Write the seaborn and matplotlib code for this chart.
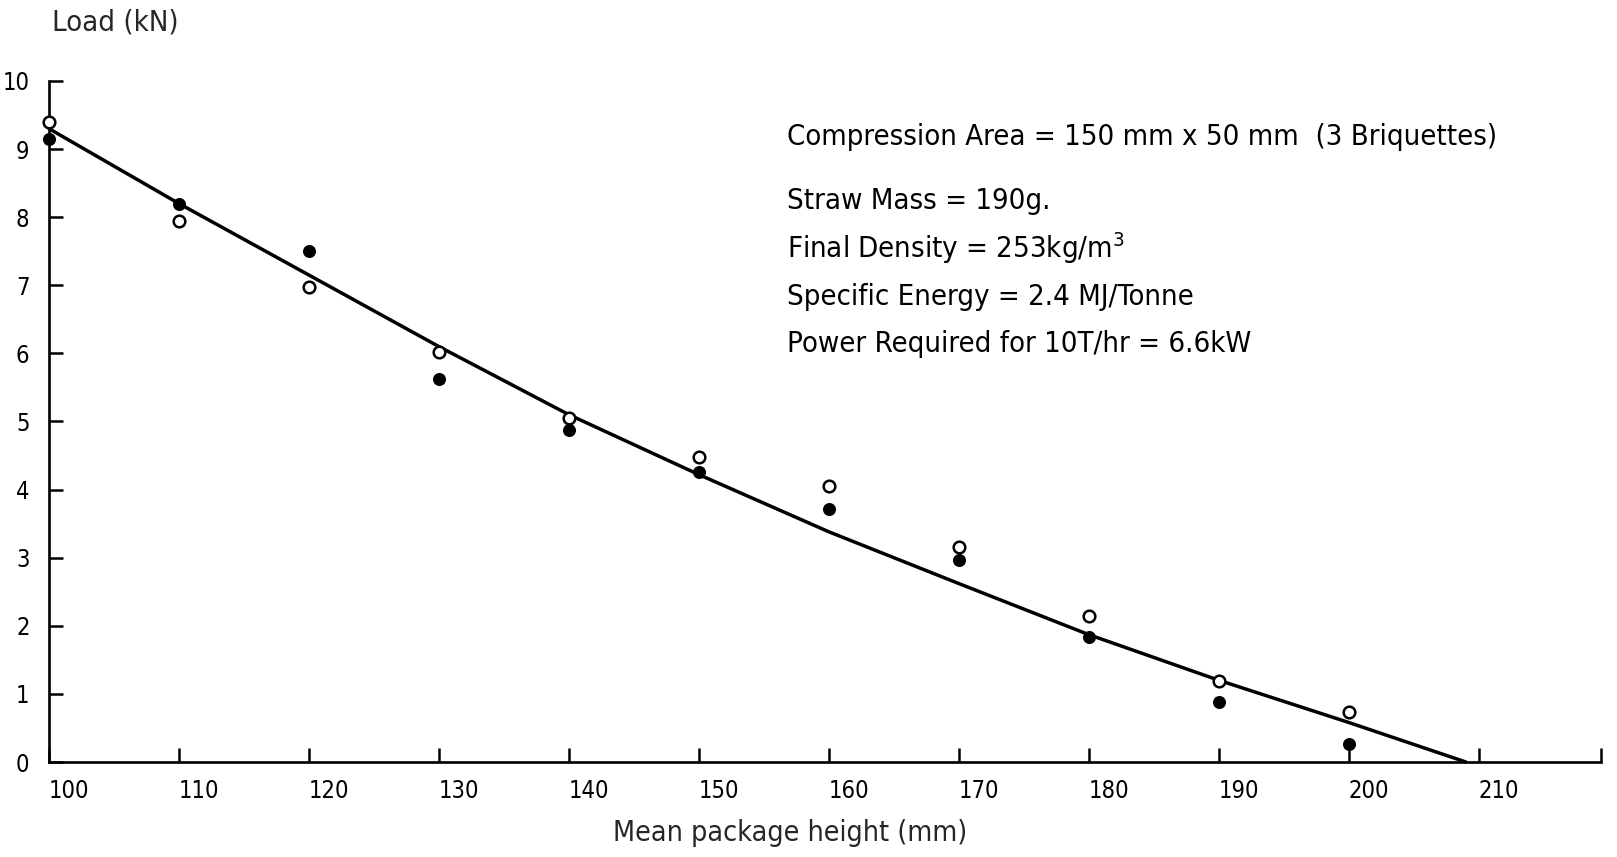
import numpy as np
import pandas as pd
import matplotlib
matplotlib.use("Agg")
import matplotlib.pyplot as plt
from matplotlib import font_manager
import seaborn as sns

# ---- data ----
heights = [100, 110, 120, 130, 140, 150, 160, 170, 180, 190, 200]
load_open = [9.40, 7.95, 6.98, 6.02, 5.05, 4.48, 4.05, 3.16, 2.14, 1.19, 0.73]
load_filled = [9.15, 8.20, 7.50, 5.62, 4.87, 4.26, 3.72, 2.96, 1.84, 0.88, 0.27]
curve_x = [100, 110, 120, 130, 140, 150, 160, 170, 180, 190, 200, 209]
curve_y = [9.30, 8.20, 7.15, 6.10, 5.10, 4.22, 3.38, 2.62, 1.87, 1.20, 0.58, 0.0]
x_ticks = [100, 110, 120, 130, 140, 150, 160, 170, 180, 190, 200, 210]
y_ticks = [0, 1, 2, 3, 4, 5, 6, 7, 8, 9, 10]
notes = [
    "Compression Area = 150 mm x 50 mm  (3 Briquettes)",
    "Straw Mass = 190g.",
    "Final Density = 253kg/m$^3$",
    "Specific Energy = 2.4 MJ/Tonne",
    "Power Required for 10T/hr = 6.6kW",
]
note_y = [9.18, 8.24, 7.55, 6.83, 6.14]

sns.set_theme(style="ticks")

names = {f.name for f in font_manager.fontManager.ttflist}
cond = [f for f in font_manager.fontManager.ttflist
        if f.name == "DejaVu Sans" and "ondensed" in f.fname]
if "Liberation Sans Narrow" in names:
    FAM, STRETCH = "Liberation Sans Narrow", "normal"
elif cond:
    FAM, STRETCH = "DejaVu Sans", "condensed"
else:
    FAM, STRETCH = "DejaVu Sans", "normal"
plt.rcParams["font.family"] = [FAM, "DejaVu Sans"]
plt.rcParams["font.stretch"] = STRETCH
plt.rcParams["mathtext.fontset"] = "custom"
plt.rcParams["mathtext.rm"] = FAM

fig = plt.figure(figsize=(16.17, 8.57), dpi=100)
ax = fig.add_axes([49 / 1617, 1 - 762 / 857, (1601 - 49) / 1617, (762 - 81) / 857])

df_open = pd.DataFrame({"h": heights, "load": load_open})
df_filled = pd.DataFrame({"h": heights, "load": load_filled})
df_curve = pd.DataFrame({"h": curve_x, "load": curve_y})

sns.lineplot(data=df_curve, x="h", y="load", ax=ax, color="black", lw=2.5,
             clip_on=False, zorder=2)
sns.scatterplot(data=df_open, x="h", y="load", ax=ax, marker="o", s=70,
                facecolor="white", edgecolor="black", linewidth=1.8,
                clip_on=False, zorder=3)
sns.scatterplot(data=df_filled, x="h", y="load", ax=ax, marker="o", s=70,
                color="black", edgecolor="black", linewidth=1.0,
                clip_on=False, zorder=3)

ax.set_xlim(100, 219.4)
ax.set_ylim(0, 10)
sns.despine(ax=ax)
for s in ["left", "bottom"]:
    ax.spines[s].set_linewidth(1.9)
    ax.spines[s].set_color("black")

ax.set_xticks(x_ticks)
ax.set_xticks([219.4], minor=True)
ax.set_yticks(y_ticks)
ax.tick_params(axis="both", which="both", direction="in", length=10,
               width=1.8, colors="black", labelsize=17)
ax.tick_params(axis="x", pad=12)
ax.tick_params(axis="y", pad=14)
ax.set_xticklabels([str(t) for t in x_ticks], ha="left")
ax.set_yticklabels([str(t) for t in y_ticks])

ax.set_xlabel("")
ax.set_ylabel("")

fig.text(790 / 1617, 1 - 833 / 857, "Mean package height (mm)", ha="center",
         va="center", fontsize=20.5)
fig.text(52 / 1617, 1 - 23 / 857, "Load (kN)", ha="left", va="center",
         fontsize=21)

for t, yv in zip(notes, note_y):
    ax.text(156.8, yv, t, ha="left", va="center", fontsize=21, color="black")

fig.savefig("out.png", dpi=100, facecolor="white")
